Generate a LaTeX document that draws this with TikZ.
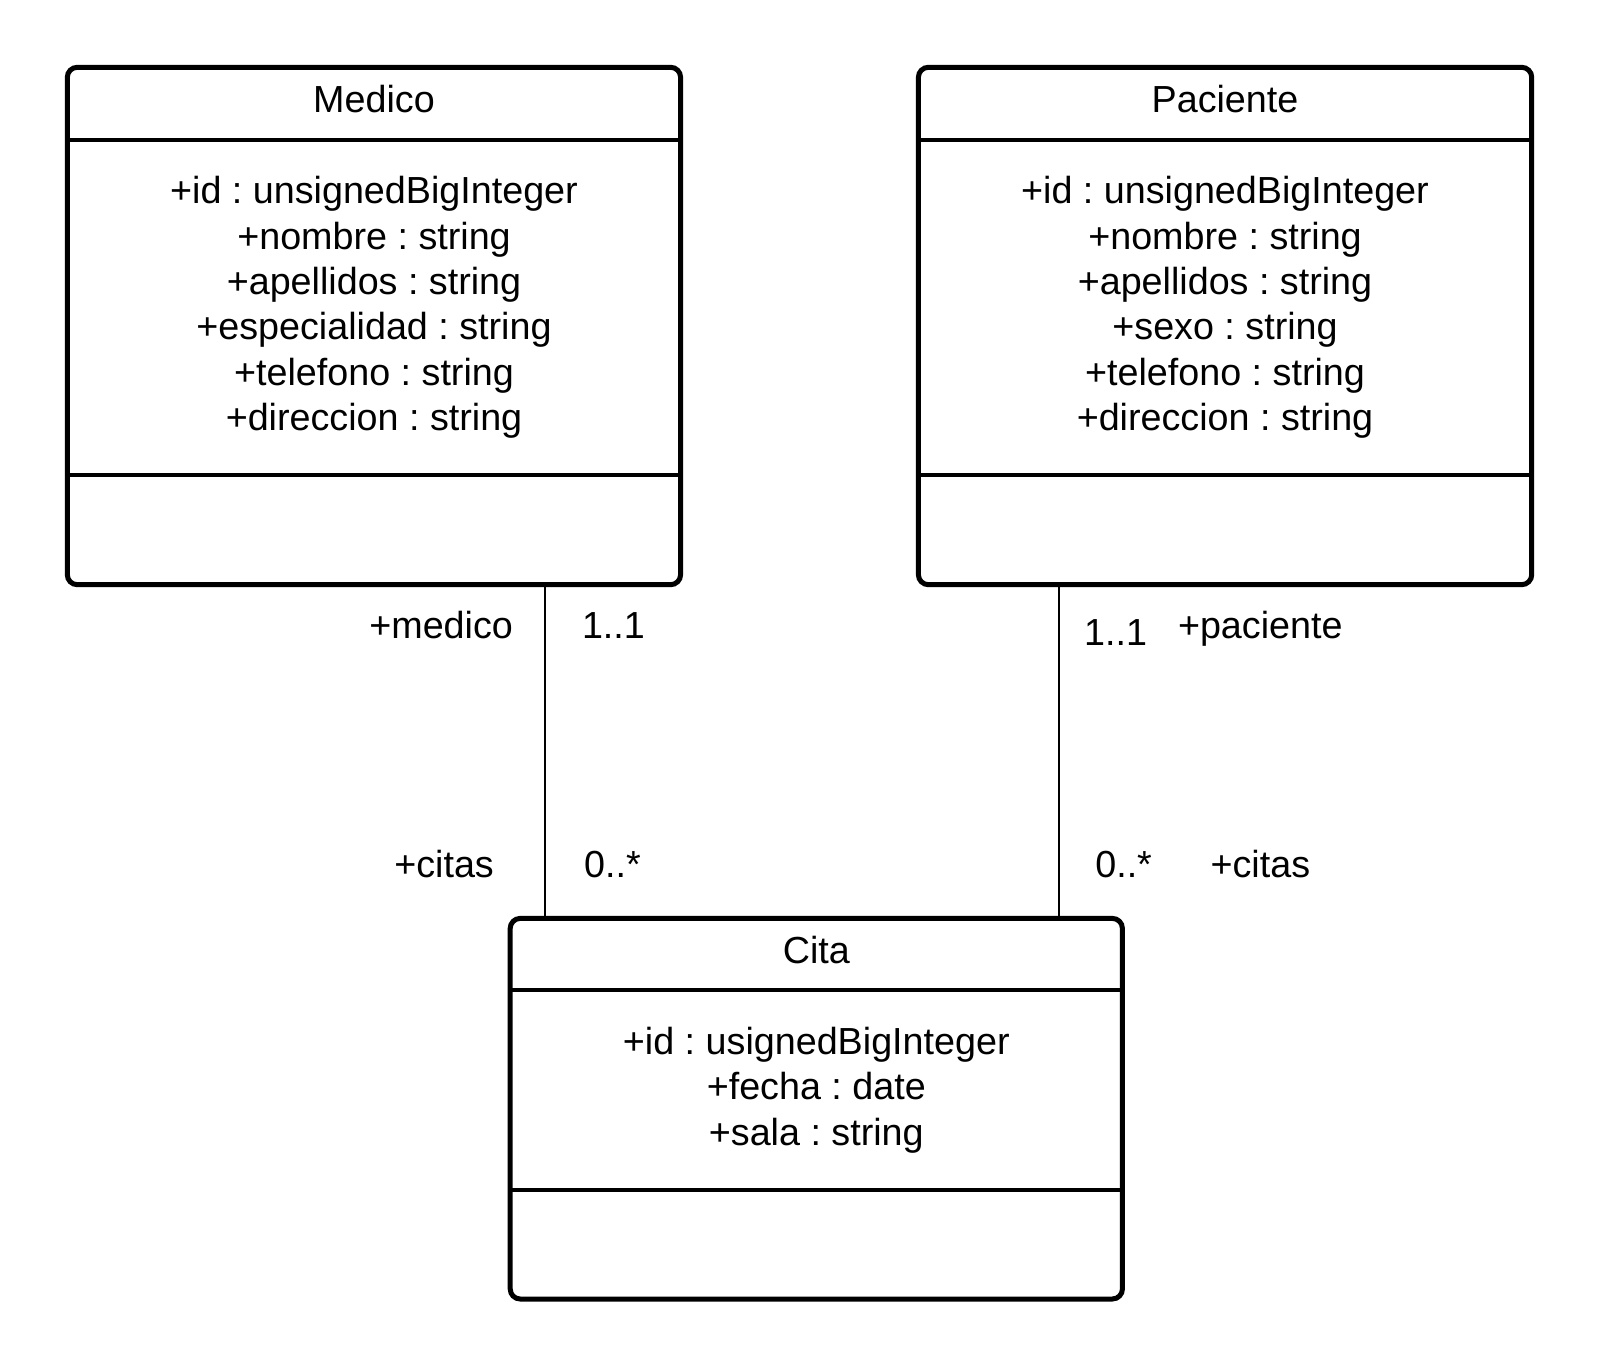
\documentclass[tikz,border=0pt]{standalone}
\usepackage{fontspec}
\setmainfont{Liberation Sans}
\frenchspacing
\begin{document}
\begin{tikzpicture}[x=0.5pt,y=-0.5pt,
  box/.style={draw, line width=2.5pt, rounded corners=5pt, inner sep=0pt, outer sep=0pt, anchor=north west},
  sep/.style={line width=2pt},
  txt/.style={font=\fontsize{18.85}{22}\selectfont, inner sep=0pt, anchor=base},
  lbl/.style={font=\fontsize{18.85}{22}\selectfont, inner sep=0pt},
  assoc/.style={line width=1.4pt}]
\useasboundingbox (0,0) rectangle (1600,1368);
% Medico
\node[box, minimum width=306.65pt, minimum height=258.7pt] (medico) at (67.3,67.3) {};
\draw[sep] ([yshift=-36.25pt]medico.north west) -- ([yshift=-36.25pt]medico.north east);
\draw[sep] ([yshift=-204.1pt]medico.north west) -- ([yshift=-204.1pt]medico.north east);
\node[txt] (medicoT) at (374,113) {Medico};
\node[txt] (m1) at (374,203.8) {+id : unsignedBigInteger};
\node[txt] (m2) at (374,249.2) {+nombre : string};
\node[txt] (m3) at (374,294.6) {+apellidos : string};
\node[txt] (m4) at (374,340.0) {+especialidad : string};
\node[txt] (m5) at (374,385.4) {+telefono : string};
\node[txt] (m6) at (374,430.8) {+direccion : string};
% Paciente
\node[box, minimum width=306.65pt, minimum height=258.7pt] (paciente) at (918.4,67.3) {};
\draw[sep] ([yshift=-36.25pt]paciente.north west) -- ([yshift=-36.25pt]paciente.north east);
\draw[sep] ([yshift=-204.1pt]paciente.north west) -- ([yshift=-204.1pt]paciente.north east);
\node[txt] (pacienteT) at (1225,113) {Paciente};
\node[txt] (p1) at (1225,203.8) {+id : unsignedBigInteger};
\node[txt] (p2) at (1225,249.2) {+nombre : string};
\node[txt] (p3) at (1225,294.6) {+apellidos : string};
\node[txt] (p4) at (1225,340.0) {+sexo : string};
\node[txt] (p5) at (1225,385.4) {+telefono : string};
\node[txt] (p6) at (1225,430.8) {+direccion : string};
% Cita
\node[box, minimum width=306.1pt, minimum height=190.3pt] (cita) at (510.2,918.4) {};
\draw[sep] ([yshift=-35.7pt]cita.north west) -- ([yshift=-35.7pt]cita.north east);
\draw[sep] ([yshift=-135.7pt]cita.north west) -- ([yshift=-135.7pt]cita.north east);
\node[txt] (citaT) at (816.3,963.5) {Cita};
\node[txt] (c1) at (816.3,1054.5) {+id : usignedBigInteger};
\node[txt] (c2) at (816.3,1099.9) {+fecha : date};
\node[txt] (c3) at (816.3,1145.3) {+sala : string};
% Associations
\coordinate (lx) at (545,0);
\coordinate (rx) at (1059,0);
\draw[assoc] (medico.south -| lx) -- (cita.north -| lx);
\draw[assoc] (paciente.south -| rx) -- (cita.north -| rx);
\node[lbl, anchor=base east] (l1) at (513.3,638.5) {+medico};
\node[lbl, anchor=base west] (l2) at (581.6,638.5) {1..1};
\node[lbl, anchor=base west] (l3) at (393.9,877.3) {+citas};
\node[lbl, anchor=base west] (l4) at (583.7,877.3) {0..*};
\node[lbl, anchor=base west] (r1) at (1083.7,645.7) {1..1};
\node[lbl, anchor=base west] (r2) at (1177.6,638.5) {+paciente};
\node[lbl, anchor=base west] (r3) at (1094.9,877.3) {0..*};
\node[lbl, anchor=base west] (r4) at (1210.2,877.3) {+citas};
\end{tikzpicture}
\end{document}
